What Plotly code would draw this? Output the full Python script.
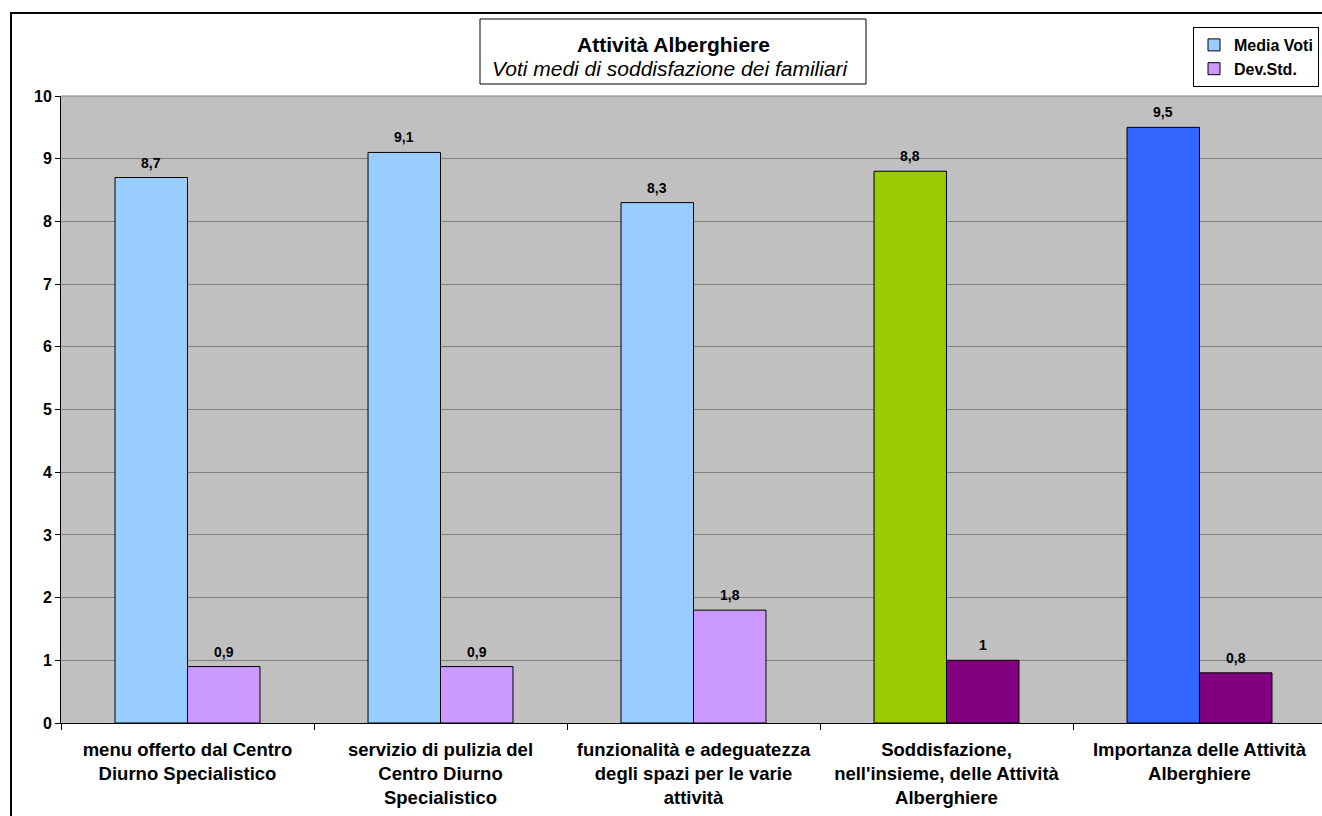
import plotly.graph_objects as go

categories = [
    "menu offerto dal Centro Diurno Specialistico",
    "servizio di pulizia del Centro Diurno Specialistico",
    "funzionalità e adeguatezza degli spazi per le varie attività",
    "Soddisfazione, nell'insieme, delle Attività Alberghiere",
    "Importanza delle Attività Alberghiere",
]
tick_labels = [
    "menu offerto dal Centro<br>Diurno Specialistico",
    "servizio di pulizia del<br>Centro Diurno<br>Specialistico",
    "funzionalità e adeguatezza<br>degli spazi per le varie<br>attività",
    "Soddisfazione,<br>nell'insieme, delle Attività<br>Alberghiere",
    "Importanza delle Attività<br>Alberghiere",
]
media_voti = [8.7, 9.1, 8.3, 8.8, 9.5]
dev_std = [0.9, 0.9, 1.8, 1.0, 0.8]
media_colors = ["#99CCFF", "#99CCFF", "#99CCFF", "#99CC00", "#3366FF"]
dev_colors = ["#CC99FF", "#CC99FF", "#CC99FF", "#800080", "#800080"]
y_ticks = list(range(0, 11))

W, H = 1322, 816
ML, MR, MT, MB = 61, 0, 96, 93
PW, PH = W - ML - MR, H - MT - MB


def px_x(px):
    return (px - ML) / PW


def px_y(py):
    return (H - MB - py) / PH


FONT = "Liberation Sans, Arial, sans-serif"


def fmt(v):
    return f"{v:g}".replace(".", ",")


fig = go.Figure()
fig.add_trace(go.Bar(
    name="Media Voti", x=categories, y=media_voti,
    marker=dict(color=media_colors, line=dict(color="black", width=1)),
))
fig.add_trace(go.Bar(
    name="Dev.Std.", x=categories, y=dev_std,
    marker=dict(color=dev_colors, line=dict(color="black", width=1)),
))

bargap = 0.427
half = (1 - bargap) / 4  # half bar width in category units
annotations = []
for series, sign in ((media_voti, -1), (dev_std, 1)):
    for i, v in enumerate(series):
        annotations.append(dict(
            x=i + sign * half, y=v, xref="x", yref="y", text="<b>" + fmt(v) + "</b>",
            showarrow=False, yshift=15, yanchor="middle",
            font=dict(family=FONT, size=14, color="black"),
        ))

# title
annotations.append(dict(
    x=px_x(673), y=px_y(45), xref="paper", yref="paper", text="<b>Attività Alberghiere</b>",
    showarrow=False, xanchor="center", yanchor="middle",
    font=dict(family=FONT, size=21, color="black"),
))
annotations.append(dict(
    x=px_x(670), y=px_y(68), xref="paper", yref="paper", text="<i>Voti medi di soddisfazione dei familiari</i>",
    showarrow=False, xanchor="center", yanchor="middle",
    font=dict(family=FONT, size=21, color="black"),
))

shapes = [
    # outer chart border
    dict(type="rect", xref="paper", yref="paper",
         x0=px_x(11), x1=px_x(1340), y0=px_y(830), y1=px_y(13),
         line=dict(color="black", width=2), fillcolor="rgba(0,0,0,0)", layer="above"),
    # title box
    dict(type="rect", xref="paper", yref="paper",
         x0=px_x(480), x1=px_x(866), y0=px_y(84), y1=px_y(19),
         line=dict(color="black", width=1), fillcolor="white", layer="below"),
    # plot area top border
    dict(type="line", xref="paper", yref="paper", x0=0, x1=1, y0=1, y1=1,
         line=dict(color="#808080", width=1)),
]

fig.update_layout(
    width=W, height=H,
    margin=dict(l=ML, r=MR, t=MT, b=MB, pad=0, autoexpand=False),
    paper_bgcolor="white", plot_bgcolor="#C0C0C0",
    barmode="group", bargap=bargap, bargroupgap=0,
    font=dict(family=FONT, color="black"),
    showlegend=True,
    legend=dict(
        x=px_x(1193), y=px_y(27), xanchor="left", yanchor="top",
        bgcolor="white", bordercolor="black", borderwidth=1,
        font=dict(family=FONT, size=16, color="black", weight="bold"),
        tracegroupgap=0, itemwidth=30,
    ),
    annotations=annotations,
    shapes=shapes,
)
fig.update_xaxes(
    range=[-0.5, -0.5 + PW / 253],
    tickmode="array", tickvals=categories, ticktext=["<b>" + t + "</b>" for t in tick_labels],
    tickson="boundaries", ticks="outside", ticklen=6, tickcolor="black", tickwidth=1,
    showline=True, linecolor="black", linewidth=1,
    tickfont=dict(family=FONT, size=18.5, color="black"),
    ticklabelstandoff=10,
    showgrid=False, zeroline=False, tickangle=0, automargin=False,
)
fig.update_yaxes(
    range=[0, 10], tickvals=y_ticks, ticktext=["<b>%d</b>" % t for t in y_ticks],
    ticks="outside", ticklen=5, tickcolor="black", tickwidth=1,
    showline=True, linecolor="black", linewidth=1,
    showgrid=True, gridcolor="#808080", gridwidth=1, zeroline=False,
    tickfont=dict(family=FONT, size=16, color="black"), automargin=False,
)

fig.write_html("out.html")
